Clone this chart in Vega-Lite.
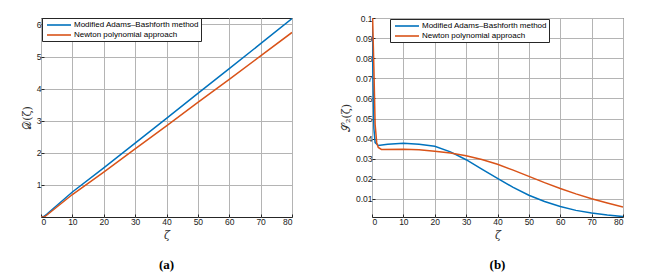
{
  "$schema": "https://vega.github.io/schema/vega-lite/v6.json",
  "background": "white",
  "padding": {"left": 20, "top": 13, "right": 5, "bottom": 5},
  "spacing": 46,
  "datasets": {
    "d": [
      {"zeta": 0, "value": 0, "method": "Modified Adams–Bashforth method"},
      {"zeta": 1, "value": 0.02, "method": "Modified Adams–Bashforth method"},
      {"zeta": 2, "value": 0.1, "method": "Modified Adams–Bashforth method"},
      {"zeta": 10, "value": 0.78, "method": "Modified Adams–Bashforth method"},
      {"zeta": 20, "value": 1.53, "method": "Modified Adams–Bashforth method"},
      {"zeta": 30, "value": 2.3, "method": "Modified Adams–Bashforth method"},
      {"zeta": 40, "value": 3.07, "method": "Modified Adams–Bashforth method"},
      {"zeta": 50, "value": 3.85, "method": "Modified Adams–Bashforth method"},
      {"zeta": 60, "value": 4.62, "method": "Modified Adams–Bashforth method"},
      {"zeta": 70, "value": 5.4, "method": "Modified Adams–Bashforth method"},
      {"zeta": 80, "value": 6.18, "method": "Modified Adams–Bashforth method"},
      {"zeta": 0, "value": 0, "method": "Newton polynomial approach"},
      {"zeta": 1, "value": 0, "method": "Newton polynomial approach"},
      {"zeta": 2, "value": 0.07, "method": "Newton polynomial approach"},
      {"zeta": 10, "value": 0.7, "method": "Newton polynomial approach"},
      {"zeta": 20, "value": 1.4, "method": "Newton polynomial approach"},
      {"zeta": 30, "value": 2.12, "method": "Newton polynomial approach"},
      {"zeta": 40, "value": 2.84, "method": "Newton polynomial approach"},
      {"zeta": 50, "value": 3.57, "method": "Newton polynomial approach"},
      {"zeta": 60, "value": 4.29, "method": "Newton polynomial approach"},
      {"zeta": 70, "value": 5.02, "method": "Newton polynomial approach"},
      {"zeta": 80, "value": 5.75, "method": "Newton polynomial approach"}
    ],
    "s": [
      {"zeta": 0, "value": 0.1, "method": "Modified Adams–Bashforth method"},
      {"zeta": 0.3, "value": 0.07, "method": "Modified Adams–Bashforth method"},
      {"zeta": 0.6, "value": 0.045, "method": "Modified Adams–Bashforth method"},
      {"zeta": 1, "value": 0.038, "method": "Modified Adams–Bashforth method"},
      {"zeta": 2, "value": 0.0366, "method": "Modified Adams–Bashforth method"},
      {"zeta": 5, "value": 0.0372, "method": "Modified Adams–Bashforth method"},
      {"zeta": 10, "value": 0.0377, "method": "Modified Adams–Bashforth method"},
      {"zeta": 15, "value": 0.0372, "method": "Modified Adams–Bashforth method"},
      {"zeta": 20, "value": 0.0362, "method": "Modified Adams–Bashforth method"},
      {"zeta": 25, "value": 0.0334, "method": "Modified Adams–Bashforth method"},
      {"zeta": 30, "value": 0.0295, "method": "Modified Adams–Bashforth method"},
      {"zeta": 35, "value": 0.0248, "method": "Modified Adams–Bashforth method"},
      {"zeta": 40, "value": 0.0202, "method": "Modified Adams–Bashforth method"},
      {"zeta": 45, "value": 0.0157, "method": "Modified Adams–Bashforth method"},
      {"zeta": 50, "value": 0.0118, "method": "Modified Adams–Bashforth method"},
      {"zeta": 55, "value": 0.0087, "method": "Modified Adams–Bashforth method"},
      {"zeta": 60, "value": 0.0062, "method": "Modified Adams–Bashforth method"},
      {"zeta": 65, "value": 0.0043, "method": "Modified Adams–Bashforth method"},
      {"zeta": 70, "value": 0.003, "method": "Modified Adams–Bashforth method"},
      {"zeta": 75, "value": 0.002, "method": "Modified Adams–Bashforth method"},
      {"zeta": 80, "value": 0.0012, "method": "Modified Adams–Bashforth method"},
      {"zeta": 0.2, "value": 0.1, "method": "Newton polynomial approach"},
      {"zeta": 0.6, "value": 0.075, "method": "Newton polynomial approach"},
      {"zeta": 1, "value": 0.047, "method": "Newton polynomial approach"},
      {"zeta": 1.5, "value": 0.038, "method": "Newton polynomial approach"},
      {"zeta": 2, "value": 0.0356, "method": "Newton polynomial approach"},
      {"zeta": 3, "value": 0.0346, "method": "Newton polynomial approach"},
      {"zeta": 10, "value": 0.0347, "method": "Newton polynomial approach"},
      {"zeta": 15, "value": 0.0344, "method": "Newton polynomial approach"},
      {"zeta": 20, "value": 0.0337, "method": "Newton polynomial approach"},
      {"zeta": 25, "value": 0.0328, "method": "Newton polynomial approach"},
      {"zeta": 30, "value": 0.0315, "method": "Newton polynomial approach"},
      {"zeta": 35, "value": 0.0296, "method": "Newton polynomial approach"},
      {"zeta": 40, "value": 0.0272, "method": "Newton polynomial approach"},
      {"zeta": 45, "value": 0.0243, "method": "Newton polynomial approach"},
      {"zeta": 50, "value": 0.0212, "method": "Newton polynomial approach"},
      {"zeta": 55, "value": 0.0181, "method": "Newton polynomial approach"},
      {"zeta": 60, "value": 0.0152, "method": "Newton polynomial approach"},
      {"zeta": 65, "value": 0.0125, "method": "Newton polynomial approach"},
      {"zeta": 70, "value": 0.0101, "method": "Newton polynomial approach"},
      {"zeta": 75, "value": 0.008, "method": "Newton polynomial approach"},
      {"zeta": 80, "value": 0.006, "method": "Newton polynomial approach"}
    ]
  },
  "config": {
    "view": {"stroke": "#262626", "strokeWidth": 1},
    "axis": {
      "labelFont": "Liberation Sans", "labelFontSize": 8.5, "labelColor": "#1a1a1a",
      "tickColor": "#262626", "tickSize": -3, "domain": false,
      "titleFont": "DejaVu Serif", "titleFontSize": 11, "titleFontWeight": "normal",
      "titleColor": "#333", "labelPadding": 3
    },
    "legend": {
      "labelFont": "Liberation Sans", "labelFontSize": 8, "labelColor": "black",
      "symbolType": "M-3,0H3", "symbolSize": 64, "symbolStrokeWidth": 1.6,
      "symbolOffset": 10, "labelOffset": 10,
      "strokeColor": "#262626", "fillColor": "white", "padding": 2, "rowPadding": 1,
      "labelLimit": 300, "title": null, "orient": "none"
    },
    "title": {"font": "Liberation Serif", "fontSize": 13, "fontWeight": "bold", "orient": "bottom", "color": "black", "offset": 18}
  },
  "hconcat": [
    {
      "width": 251, "height": 199,
      "title": "(a)",
      "data": {"name": "d"},
      "mark": {"type": "line", "strokeWidth": 1.5, "clip": true},
      "encoding": {
        "x": {"field": "zeta", "type": "quantitative", "scale": {"domain": [0, 80], "nice": false},
              "axis": {"title": "ζ", "titleFontStyle": "italic", "values": [0,10,20,30,40,50,60,70,80], "grid": true, "gridColor": "#b4b4b4", "gridWidth": 1}},
        "y": {"field": "value", "type": "quantitative", "scale": {"domain": [0, 6.2], "nice": false},
              "axis": {"title": "𝒟(ζ)", "values": [1,2,3,4,5,6], "grid": true, "gridColor": "#b4b4b4", "gridWidth": 1}},
        "color": {"field": "method", "type": "nominal",
                  "scale": {"domain": ["Modified Adams–Bashforth method", "Newton polynomial approach"], "range": ["#0072BD", "#D95319"]},
                  "legend": {"legendX": 1, "legendY": 0}}
      }
    },
    {
      "width": 251, "height": 199,
      "title": "(b)",
      "data": {"name": "s"},
      "mark": {"type": "line", "strokeWidth": 1.5, "clip": true},
      "encoding": {
        "x": {"field": "zeta", "type": "quantitative", "scale": {"domain": [0, 80], "nice": false},
              "axis": {"title": "ζ", "titleFontStyle": "italic", "values": [0,10,20,30,40,50,60,70,80], "grid": true, "gridColor": "#b4b4b4", "gridWidth": 1}},
        "y": {"field": "value", "type": "quantitative", "scale": {"domain": [0.001, 0.1], "nice": false},
              "axis": {"title": "𝒮₂(ζ)", "values": [0.01,0.02,0.03,0.04,0.05,0.06,0.07,0.08,0.09,0.1], "format": "~g", "grid": true, "gridColor": "#b4b4b4", "gridWidth": 1}},
        "color": {"field": "method", "type": "nominal",
                  "scale": {"domain": ["Modified Adams–Bashforth method", "Newton polynomial approach"], "range": ["#0072BD", "#D95319"]},
                  "legend": {"legendX": 18, "legendY": 1}}
      }
    }
  ],
  "resolve": {"scale": {"color": "independent"}, "legend": {"color": "independent"}}
}
